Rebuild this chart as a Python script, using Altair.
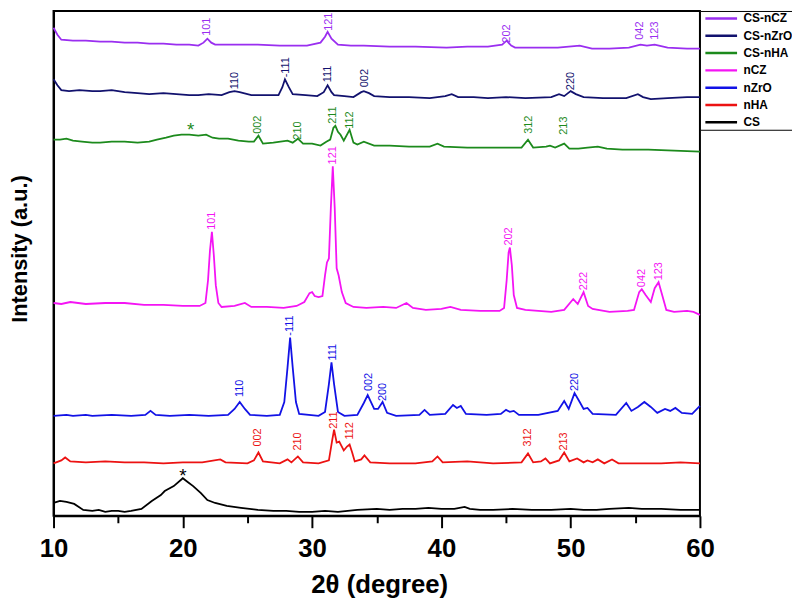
import altair as alt
import pandas as pd

SERIES = ["CS-nCZ", "CS-nZrO", "CS-nHA", "nCZ", "nZrO", "nHA", "CS"]
COLORS = ["#9A2EF0", "#12126E", "#1C8A1C", "#F414F4", "#1212E6", "#EC1212", "#000000"]

# (2theta, intensity a.u.), each pattern already offset
cs = [(10.0,13),(10.5,15),(11.0,14),(11.6,12),(12.3,6),(13.0,5),(13.5,6),(14.0,4),(14.5,5),(15.0,5),
      (15.5,4),(16.0,5),(16.8,7),(17.6,15),(18.3,21),(18.6,25),(19.3,30),(20.0,38),(20.4,34),(20.8,30),
      (21.4,23),(21.9,16),(22.5,13),(23.4,10),(24.5,8),(25.8,6),(27.0,5),(28.0,5),(29.0,4),(30.0,4),
      (31.0,5),(32.0,4),(33.5,6),(35.0,7),(36.0,6),(37.0,7),(38.0,7),(39.0,8),(40.0,7),(41.0,7),
      (41.8,9),(42.2,7),(43.0,6),(44.0,6),(45.5,7),(47.0,6),(48.5,6),(50.0,7),(51.0,6),(52.0,6),
      (53.0,7),(54.5,8),(55.5,7),(57.0,7),(58.5,6),(60.0,6)]
nha = [(10.0,53),(10.6,56),(10.9,59),(11.3,55),(12.5,54),(14.0,55),(15.5,54),(17.0,54),(18.5,53),(20.0,54),
       (21.5,54),(22.9,57),(23.3,54),(25.0,53),(25.5,56),(25.85,64),(26.2,55),(27.5,53),(28.1,57),(28.4,54),
       (28.9,60),(29.3,54),(30.5,53),(31.3,56),(31.55,76),(31.7,87),(31.9,74),(32.1,75),(32.45,66),(32.7,70),
       (32.9,72),(33.1,64),(33.3,55),(33.8,57),(34.05,61),(34.5,54),(36.0,53),(38.0,53),(39.3,55),(39.7,60),
       (40.1,54),(42.0,55),(44.0,53),(46.2,54),(46.7,63),(47.1,54),(47.7,55),(48.05,58),(48.4,53),(49.1,56),
       (49.5,64),(49.9,55),(50.5,58),(51.0,54),(51.3,56),(51.7,54),(52.1,57),(52.6,53),(53.2,57),(53.7,53),
       (55.0,53),(57.0,53),(58.5,54),(60.0,53)]
nzro = [(10.0,101),(11.0,102),(11.5,101),(12.5,102),(13.0,101),(14.5,102),(16.0,101),(17.1,102),(17.5,106),(17.9,102),
        (19.0,101),(20.5,102),(22.0,101),(23.5,102),(24.0,108),(24.4,115),(24.8,108),(25.2,102),(26.5,101),(27.5,102),
        (27.85,115),(28.1,150),(28.3,180),(28.5,150),(28.75,115),(29.0,103),(30.5,101),(31.0,105),(31.3,133),(31.5,155),
        (31.7,133),(32.0,105),(32.5,101),(33.5,102),(34.0,114),(34.3,122),(34.8,108),(35.1,108),(35.45,115),(35.8,104),
        (36.5,101),(38.3,102),(38.7,107),(39.1,102),(40.3,103),(40.9,112),(41.2,109),(41.5,111),(41.9,103),(43.5,102),
        (44.6,103),(45.0,107),(45.3,105),(45.6,106),(46.0,102),(47.5,102),(49.0,106),(49.5,116),(49.85,108),(50.3,124),
        (50.7,115),(51.0,108),(51.3,109),(51.7,103),(53.5,102),(54.3,114),(54.7,106),(55.2,110),(55.7,115),(56.2,110),
        (56.7,104),(57.3,108),(57.7,106),(58.1,109),(58.6,104),(59.4,103),(60.0,111)]
ncz = [(10.0,215),(10.6,214),(11.3,216),(12.5,214),(14.0,215),(15.5,215),(17.0,213),(18.5,213),(20.0,212),(21.3,212),
       (21.75,215),(21.95,238),(22.1,268),(22.25,287),(22.4,263),(22.55,233),(22.75,215),(23.0,211),(24.0,212),(24.8,215),
       (25.3,211),(26.5,211),(27.8,210),(28.8,212),(29.4,216),(29.8,225),(30.0,226),(30.2,222),(30.5,221),(30.8,222),
       (31.0,243),(31.15,256),(31.3,260),(31.45,311),(31.6,353),(31.75,311),(31.9,250),(32.05,243),(32.3,226),(32.6,215),
       (33.2,211),(34.2,210),(35.5,211),(36.5,210),(37.3,215),(37.8,210),(38.8,208),(40.0,209),(40.7,211),(41.5,208),
       (43.0,207),(44.5,207),(44.85,210),(45.05,238),(45.2,266),(45.3,271),(45.45,253),(45.6,223),(45.85,210),(46.5,208),
       (47.5,207),(48.5,206),(49.5,208),(50.2,219),(50.55,214),(51.0,226),(51.35,212),(51.7,209),(53.0,206),(54.4,207),
       (54.9,208),(55.3,226),(55.5,229),(55.8,223),(56.2,216),(56.5,230),(56.8,236),(57.1,222),(57.4,208),(58.0,206),
       (59.0,207),(59.5,206),(60.0,203)]
cs_nha = [(10.0,380),(10.5,380),(11.0,381),(11.5,379),(12.2,378),(13.0,377),(13.6,377),(14.5,378),(15.5,378),(16.5,377),
          (17.4,378),(18.0,380),(18.7,382),(19.3,384),(19.9,385),(20.5,385),(21.2,384),(21.8,385),(22.3,382),(22.8,381),
          (23.5,381),(24.3,379),(25.1,378),(25.5,378),(25.85,384),(26.2,376),(27.0,377),(28.1,379),(28.5,377),(28.9,381),
          (29.3,376),(30.0,376),(30.65,374),(31.1,378),(31.4,380),(31.65,392),(31.8,394),(32.0,388),(32.2,385),(32.45,379),
          (32.9,390),(33.2,377),(33.5,375),(34.0,378),(34.8,374),(36.0,374),(37.5,373),(39.1,373),(39.7,376),(40.2,373),
          (42.0,372),(44.0,372),(46.2,372),(46.7,380),(47.1,372),(48.1,373),(48.4,374),(48.8,372),(49.5,376),(49.9,371),
          (50.6,371),(51.3,372),(52.1,373),(52.8,371),(54.0,370),(56.0,370),(58.0,369),(60.0,368)]
cs_nzro = [(10.0,441),(10.3,435),(10.6,430),(11.2,429),(12.0,430),(13.0,429),(13.6,429),(14.5,430),(15.5,428),(16.5,427),
           (17.4,426),(18.5,427),(19.5,426),(20.5,425),(21.2,425),(22.0,426),(23.0,425),(23.6,428),(24.0,429),(24.4,428),
           (25.3,425),(26.5,425),(27.4,425),(27.7,433),(27.9,441),(28.2,433),(28.5,426),(29.5,425),(30.4,424),(30.9,428),
           (31.2,435),(31.5,428),(31.7,425),(32.5,424),(33.2,423),(33.8,428),(34.0,429),(34.4,427),(34.8,424),(36.0,423),
           (37.5,423),(39.1,422),(40.3,424),(40.8,426),(41.3,423),(42.5,423),(43.6,422),(45.0,423),(46.5,422),(48.5,423),
           (49.1,426),(49.5,424),(50.0,429),(50.4,426),(51.0,423),(52.5,422),(54.3,422),(55.2,426),(55.6,423),(56.2,421),
           (57.5,422),(59.0,423),(60.0,423)]
cs_ncz = [(10.0,493),(10.3,486),(10.6,481),(11.5,480),(12.5,480),(13.6,479),(14.5,479),(15.5,478),(16.5,478),(17.4,477),
          (18.5,477),(19.5,476),(20.5,476),(21.2,475),(21.6,478),(21.9,482),(22.2,478),(22.5,476),(24.0,476),(25.8,476),
          (27.5,475),(29.6,475),(30.65,478),(31.0,484),(31.2,489),(31.5,482),(32.0,476),(33.0,475),(34.0,475),(36.0,474),
          (38.0,474),(40.4,473),(42.0,474),(43.6,474),(44.7,476),(45.05,480),(45.4,475),(45.7,473),(47.0,473),(49.0,473),
          (50.7,475),(51.65,472),(53.0,472),(54.5,473),(55.4,476),(55.9,475),(56.5,476),(57.5,473),(59.0,472),(60.0,472)]

PATTERNS = {"CS-nCZ": cs_ncz, "CS-nZrO": cs_nzro, "CS-nHA": cs_nha,
            "nCZ": ncz, "nZrO": nzro, "nHA": nha, "CS": cs}

# peak (hkl) labels: series, 2theta, intensity where the label starts, text
peak_labels = [
    ("CS-nCZ", 21.9, 485, "101"), ("CS-nCZ", 31.3, 490, "121"), ("CS-nCZ", 45.05, 478, "202"),
    ("CS-nCZ", 55.4, 481, "042"), ("CS-nCZ", 56.5, 481, "123"),
    ("CS-nZrO", 24.05, 431, "110"), ("CS-nZrO", 27.95, 443, "-111"), ("CS-nZrO", 31.2, 438, "111"),
    ("CS-nZrO", 34.1, 433, "002"), ("CS-nZrO", 50.0, 430, "220"),
    ("CS-nHA", 25.85, 386, "002"), ("CS-nHA", 28.9, 380, "210"), ("CS-nHA", 31.65, 396, "211"),
    ("CS-nHA", 32.95, 391, "112"), ("CS-nHA", 46.75, 386, "312"), ("CS-nHA", 49.5, 385, "213"),
    ("nCZ", 22.25, 289, "101"), ("nCZ", 31.6, 355, "121"), ("nCZ", 45.2, 273, "202"),
    ("nCZ", 51.0, 228, "222"), ("nCZ", 55.5, 231, "042"), ("nCZ", 56.85, 238, "123"),
    ("nZrO", 24.4, 120, "110"), ("nZrO", 28.3, 182, "-111"), ("nZrO", 31.6, 157, "111"),
    ("nZrO", 34.4, 126, "002"), ("nZrO", 35.5, 116, "200"), ("nZrO", 50.3, 126, "220"),
    ("nHA", 25.85, 70, "002"), ("nHA", 28.9, 66, "210"), ("nHA", 31.7, 88, "211"),
    ("nHA", 32.9, 77, "112"), ("nHA", 46.7, 70, "312"), ("nHA", 49.5, 66, "213"),
]
star_marks = [("CS-nHA", 20.6, 384, "*"), ("CS", 20.0, 34, "*")]

X_TICKS = [10, 15, 20, 25, 30, 35, 40, 45, 50, 55, 60]
FONT = "Liberation Sans, Arial, sans-serif"

color_of = dict(zip(SERIES, COLORS))
rows = [{"series": s, "theta": x, "inten": y} for s in SERIES for (x, y) in PATTERNS[s]]
df = pd.DataFrame(rows)
lab = pd.DataFrame([{"series": s, "theta": x, "inten": y, "txt": t, "col": color_of[s]}
                    for (s, x, y, t) in peak_labels])
stars = pd.DataFrame([{"series": s, "theta": x, "inten": y, "txt": t, "col": color_of[s]}
                      for (s, x, y, t) in star_marks])

xscale = alt.Scale(domain=[10, 60], nice=False, zero=False)
yscale = alt.Scale(domain=[0, 510], nice=False, zero=False)

xaxis = alt.Axis(values=X_TICKS, labelExpr="datum.value % 10 == 0 ? datum.label : ''",
                 tickSize={"condition": {"test": "datum.value % 10 === 0", "value": 12}, "value": 7},
                 tickWidth=2, tickColor="black", domainColor="black", domainWidth=2,
                 labelFont=FONT, labelFontSize=26, labelFontWeight="bold", labelColor="black",
                 labelPadding=8, labelOverlap=False, labelFlush=False, grid=False,
                 title="2θ (degree)", titleFont=FONT, titleFontSize=26, titleFontWeight="bold",
                 titleColor="black", titleX=329, titleY=77, titleAlign="center",
                 titleBaseline="alphabetic")
yaxis = alt.Axis(labels=False, ticks=False, grid=False, domainColor="black", domainWidth=2,
                 title="Intensity (a.u.)", titleFont=FONT, titleFontSize=22, titleFontWeight="bold",
                 titleColor="black", titleAngle=270, titleX=-27, titleY=240, titleAlign="center",
                 titleBaseline="alphabetic")

lines = alt.Chart(df).mark_line(strokeWidth=1.8).encode(
    x=alt.X("theta:Q", scale=xscale, axis=xaxis),
    y=alt.Y("inten:Q", scale=yscale, axis=yaxis),
    color=alt.Color("series:N", scale=alt.Scale(domain=SERIES, range=COLORS),
                    legend=alt.Legend(title=None, orient="none", legendX=653, legendY=0,
                                      strokeColor="black", fillColor="white", padding=1,
                                      symbolType="M-3.2,0H3.2", symbolSize=100,
                                      symbolStrokeWidth=2.5, labelFont=FONT, labelFontSize=12,
                                      labelFontWeight="bold", labelColor="black", rowPadding=4.5,
                                      labelOffset=16, symbolOffset=14)),
    detail="series:N",
)

texts = alt.Chart(lab).mark_text(angle=270, align="left", baseline="middle",
                                 font=FONT, fontSize=11).encode(
    x=alt.X("theta:Q", scale=xscale),
    y=alt.Y("inten:Q", scale=yscale),
    text="txt:N",
    color=alt.Color("col:N", scale=None),
)

star_layer = alt.Chart(stars).mark_text(align="center", baseline="alphabetic",
                                        font=FONT, fontSize=19).encode(
    x=alt.X("theta:Q", scale=xscale),
    y=alt.Y("inten:Q", scale=yscale),
    text="txt:N",
    color=alt.Color("col:N", scale=None),
)

chart = alt.layer(lines, texts, star_layer).properties(
    width=653, height=510,
    autosize=alt.AutoSizeParams(type="none"),
    padding={"left": 46, "top": 0, "right": 93, "bottom": 80},
).configure_view(stroke="black", strokeWidth=2)

chart.save("out.html", embed_options={"renderer": "svg", "actions": False})
